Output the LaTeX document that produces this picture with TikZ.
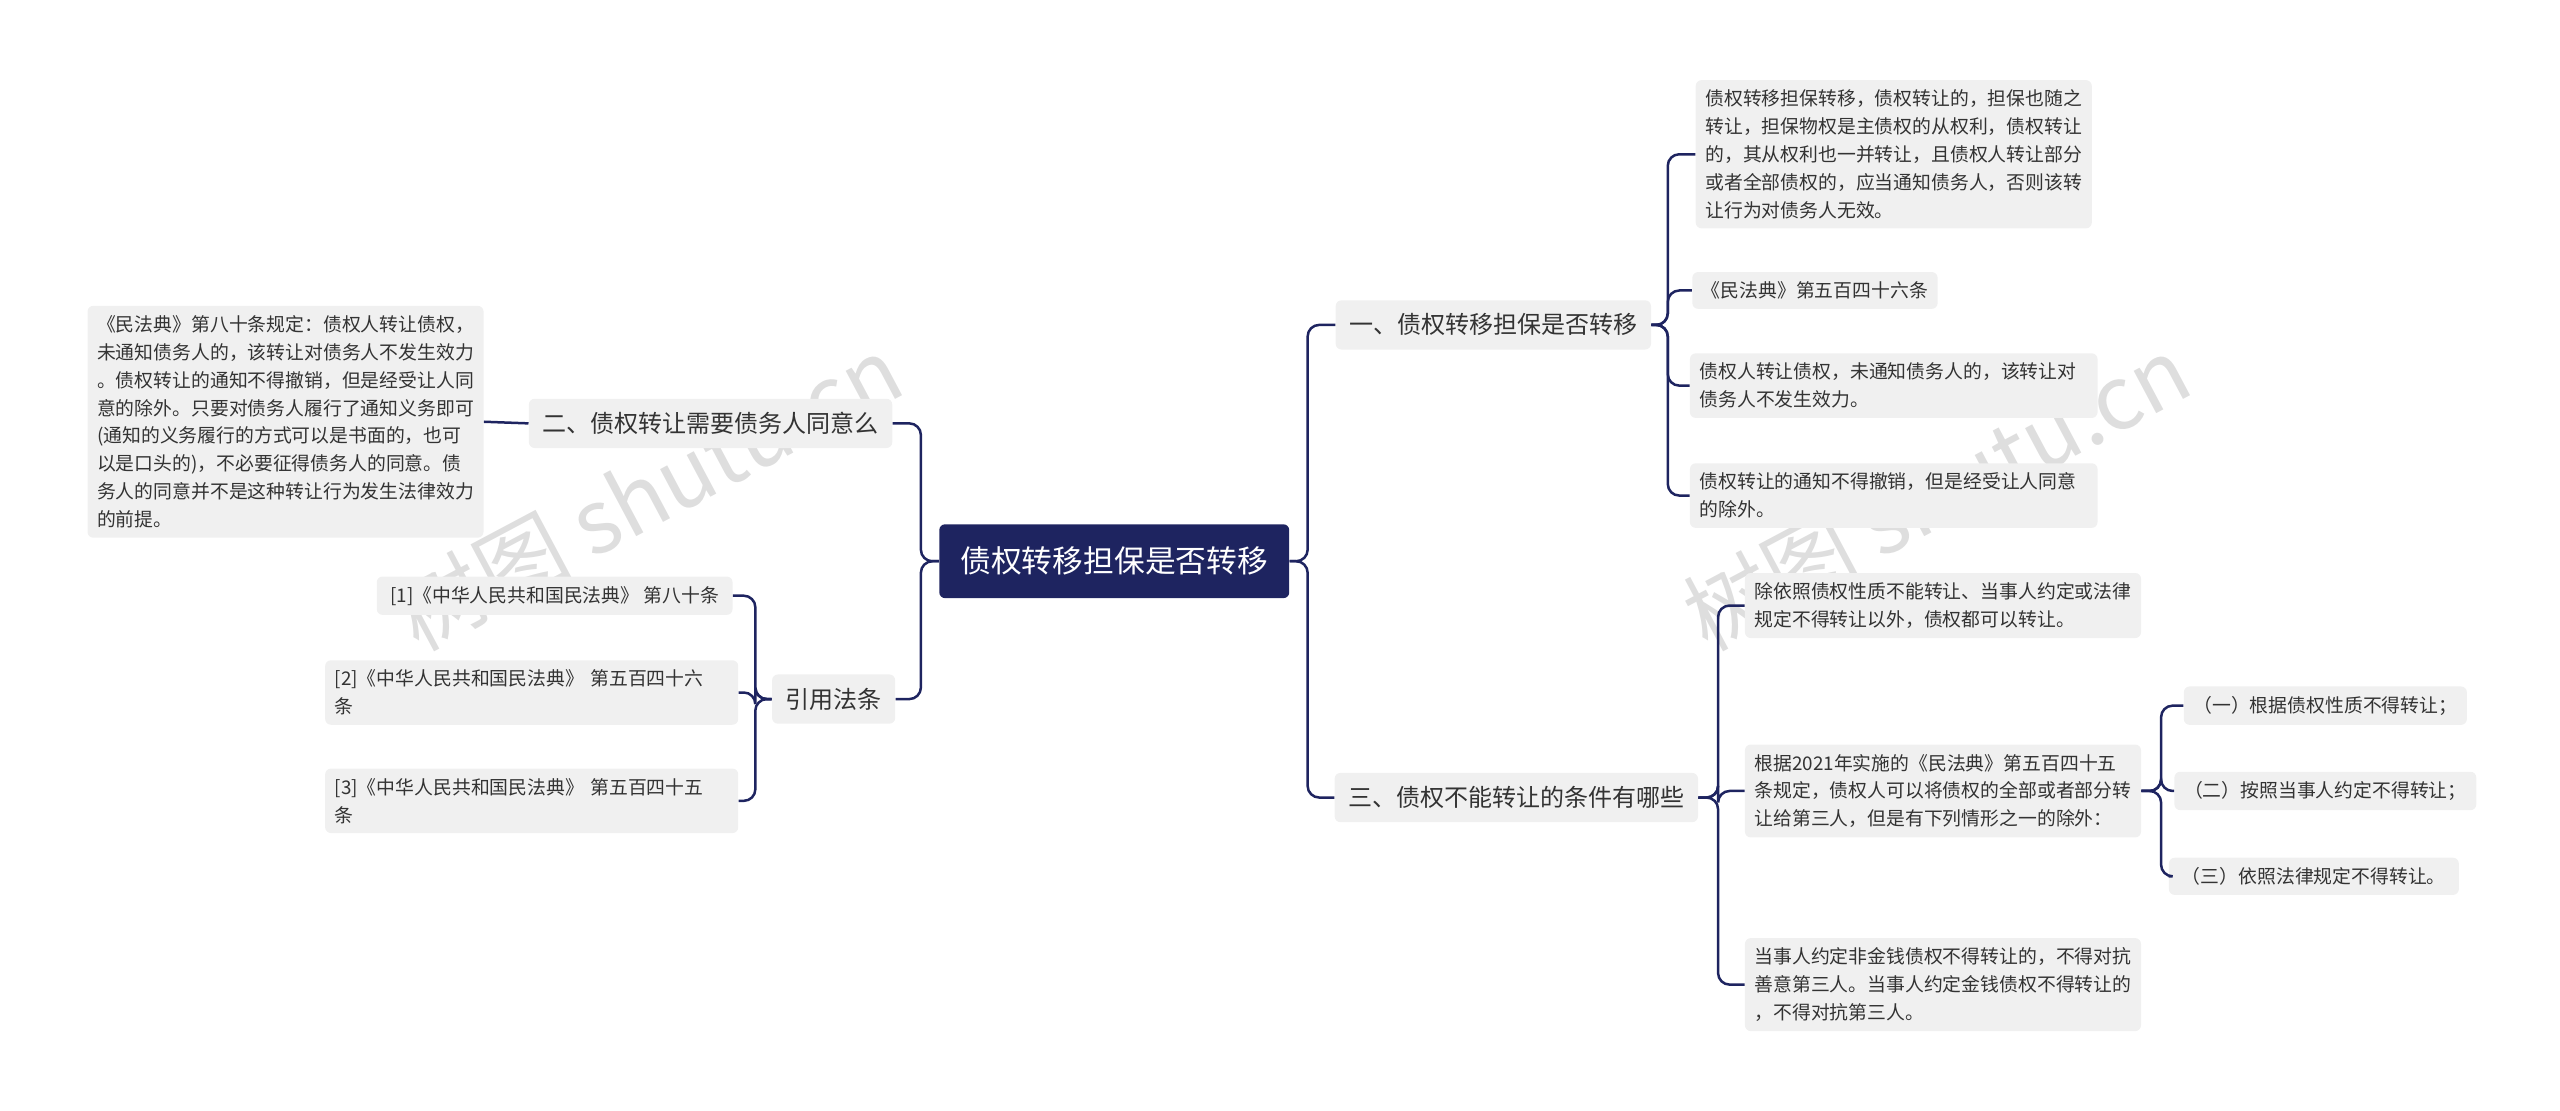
\documentclass[tikz,border=0pt]{standalone}
\usepackage{fontspec}
\setmainfont{Noto Sans CJK SC}
\definecolor{navy}{HTML}{1E2460}
\definecolor{leafbg}{HTML}{F0F0F0}
\begin{document}
\begin{tikzpicture}[x=0.03cm,y=-0.03cm,
	root/.style={rectangle, rounded corners=3pt, fill=navy, text=white, font=\fontsize{16}{19}\selectfont, minimum height=1.35cm, inner xsep=11pt},
	branch/.style={rectangle, rounded corners=3pt, fill=leafbg, text=black!80, font=\fontsize{12.5}{15}\selectfont, minimum height=0.9cm, inner xsep=7pt},
	leaf/.style={rectangle, rounded corners=3pt, fill=leafbg, text=black!80, font=\fontsize{9.8}{14.5}\selectfont, align=left, inner sep=5pt},
	link/.style={draw=navy, line width=1.3pt, rounded corners=6pt},
	wmark/.style={text=black!13, font=\fontsize{46}{50}\selectfont, rotate=28}]
	\useasboundingbox (0,0) rectangle (1560,677);
	\node[wmark] at (395,300) (w1) {树图 shutu.cn};
	\node[wmark] at (1180,300) (w2) {树图 shutu.cn};

	\node[root] at (679,342) (r) {债权转移担保是否转移};
	\node[branch] at (433,258) (b1) {二、债权转让需要债务人同意么};
	\node[branch] at (508,426) (b2) {引用法条};
	\node[branch] at (910,198) (b3) {一、债权转移担保是否转移};
	\node[branch] at (924,486) (b4) {三、债权不能转让的条件有哪些};

	\node[leaf] at (174,257) (l1) {《民法典》第八十条规定：债权人转让债权，\\未通知债务人的，该转让对债务人不发生效力\\。债权转让的通知不得撤销，但是经受让人同\\意的除外。只要对债务人履行了通知义务即可\\(通知的义务履行的方式可以是书面的，也可\\以是口头的)，不必要征得债务人的同意。债\\务人的同意并不是这种转让行为发生法律效力\\的前提。};
	\node[leaf, inner xsep=7pt] at (338,363) (c1) {[1]《中华人民共和国民法典》 第八十条};
	\node[leaf, text width=7.2cm] at (324,422) (c2) {[2]《中华人民共和国民法典》 第五百四十六\\条};
	\node[leaf, text width=7.2cm] at (324,488) (c3) {[3]《中华人民共和国民法典》 第五百四十五\\条};

	\node[leaf] at (1154,94) (s1) {债权转移担保转移，债权转让的，担保也随之\\转让，担保物权是主债权的从权利，债权转让\\的，其从权利也一并转让，且债权人转让部分\\或者全部债权的，应当通知债务人，否则该转\\让行为对债务人无效。};
	\node[leaf] at (1106,177) (s2) {《民法典》第五百四十六条};
	\node[leaf, text width=7.1cm] at (1154,235) (s3) {债权人转让债权，未通知债务人的，该转让对\\债务人不发生效力。};
	\node[leaf, text width=7.1cm] at (1154,302) (s4) {债权转让的通知不得撤销，但是经受让人同意\\的除外。};

	\node[leaf] at (1184,369) (t1) {除依照债权性质不能转让、当事人约定或法律\\规定不得转让以外，债权都可以转让。};
	\node[leaf] at (1184,482) (t2) {根据2021年实施的《民法典》第五百四十五\\条规定，债权人可以将债权的全部或者部分转\\让给第三人，但是有下列情形之一的除外：};
	\node[leaf] at (1184,600) (t3) {当事人约定非金钱债权不得转让的，不得对抗\\善意第三人。当事人约定金钱债权不得转让的\\，不得对抗第三人。};

	\node[leaf] at (1417,430) (u1) {（一）根据债权性质不得转让；};
	\node[leaf] at (1417,482) (u2) {（二）按照当事人约定不得转让；};
	\node[leaf, minimum width=5.3cm] at (1410,534) (u3) {（三）依照法律规定不得转让。};

	\draw[link] (r.west) -- ++(-11,0) |- (b1.east);
	\draw[link] (r.west) -- ++(-11,0) |- (b2.east);
	\draw[link] (r.east) -- ++(11,0) |- (b3.west);
	\draw[link] (r.east) -- ++(11,0) |- (b4.west);
	\draw[link] (b1.west) -- (l1.east);
	\foreach \c in {c1,c2,c3}
		\draw[link] (b2.west) -- ++(-10,0) |- (\c.east);
	\foreach \s in {s1,s2,s3,s4}
		\draw[link] (b3.east) -- ++(10,0) |- (\s.west);
	\foreach \t in {t1,t2,t3}
		\draw[link] (b4.east) -- ++(12,0) |- (\t.west);
	\foreach \u in {u1,u2,u3}
		\draw[link] (t2.east) -- ++(12,0) |- (\u.west);
\end{tikzpicture}
\end{document}
